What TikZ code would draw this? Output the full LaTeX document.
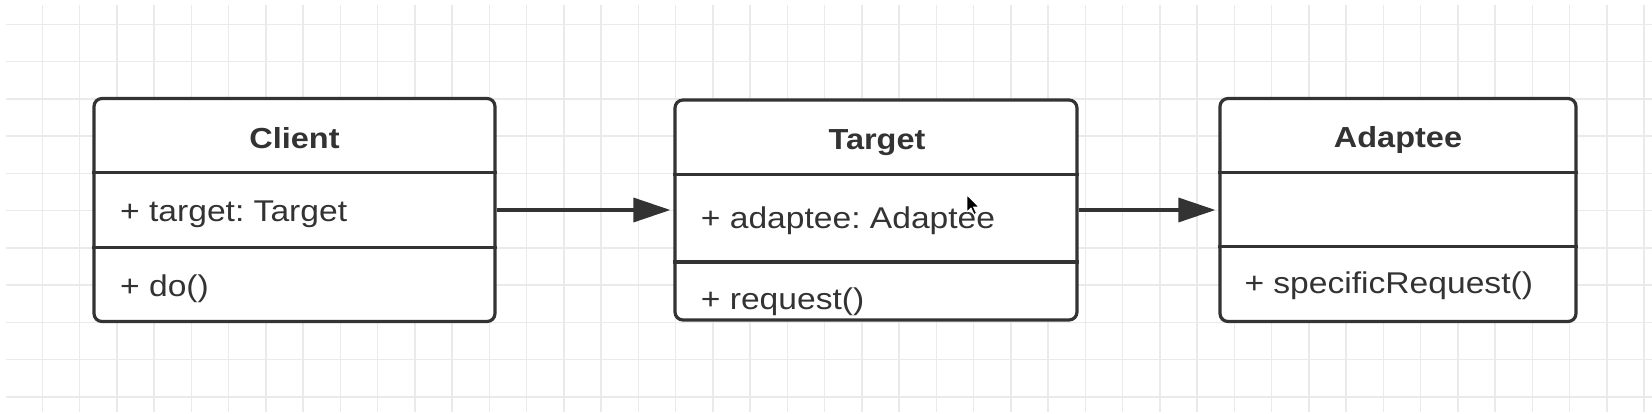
\documentclass[tikz,border=0pt]{standalone}
\usepackage{fontspec}
\setmainfont{Liberation Sans}[FakeStretch=1.12]
\usetikzlibrary{arrows.meta}
\definecolor{ink}{HTML}{333333}
\definecolor{gridc}{HTML}{EAEAEA}
\tikzset{
  classbox/.style={draw=ink, line width=3.2pt, rounded corners=8pt, fill=white, inner sep=0pt},
  divider/.style={draw=ink, line width=3.2pt},
  ttl/.style={anchor=base, text=ink, font=\fontsize{29}{35}\selectfont\bfseries, inner sep=0pt},
  member/.style={anchor=base west, text=ink, font=\fontsize{30}{36}\selectfont, inner sep=0pt},
  arr/.style={draw=ink, line width=3.4pt, -{Triangle[length=37pt,width=24pt]}, shorten >=3pt},
  gridline/.style={draw=gridc, line width=1.5pt}
}
\frenchspacing
\begin{document}
\begin{tikzpicture}[x=1pt,y=-1pt]
\useasboundingbox (0,0) rectangle (1652,414);
\fill[white] (0,0) rectangle (1652,414);
% grid
\begin{scope}
\clip (6,5) rectangle (1652,412);
\foreach \k in {0,...,43} {\draw[gridline] ({42.3+37.25*\k},5) -- ({42.3+37.25*\k},412);}
\foreach \k in {0,...,10} {\draw[gridline] (6,{24.3+37.25*\k}) -- (1652,{24.3+37.25*\k});}
\end{scope}
% Client
\node[classbox, minimum width=401pt, minimum height=223pt] (client) at (294.5,210) {};
\draw[divider] (client.west |- 0,172.7) -- (client.east |- 0,172.7);
\draw[divider] (client.west |- 0,247.3) -- (client.east |- 0,247.3);
\node[ttl] (clientT) at (294.5,148.3) {Client};
\node[member] (clientA) at (120,221.7) {+ target: Target};
\node[member] (clientM) at (120,296.7) {+ do()};
% Target
\node[classbox, minimum width=402pt, minimum height=220pt] (target) at (876,210) {};
\draw[divider] (target.west |- 0,174.5) -- (target.east |- 0,174.5);
\draw[divider] (target.west |- 0,262) -- (target.east |- 0,262);
\node[ttl] (targetT) at (877,150) {Target};
\node[member] (targetA) at (700.7,228.3) {+ adaptee: Adaptee};
\node[member] (targetM) at (700.7,309) {+ request()};
% Adaptee
\node[classbox, minimum width=356pt, minimum height=223pt] (adaptee) at (1398,210) {};
\draw[divider] (adaptee.west |- 0,172.5) -- (adaptee.east |- 0,172.5);
\draw[divider] (adaptee.west |- 0,246.7) -- (adaptee.east |- 0,246.7);
\node[ttl] (adapteeT) at (1398,147.7) {Adaptee};
\node[member] (adapteeM) at (1244.3,293.3) {+ specificRequest()};
% connectors
\draw[arr] (client.east) -- (target.west);
\draw[arr] (target.east) -- (adaptee.west);
% mouse cursor
\filldraw[fill=black, draw=white, line width=0.8pt, line join=round]
  (967,195) -- ++(0,17) -- ++(4,-4) -- ++(3,6.5) -- ++(2.5,-1.2) -- ++(-3,-6.3) -- ++(5.5,0) -- cycle;
\end{tikzpicture}
\end{document}
